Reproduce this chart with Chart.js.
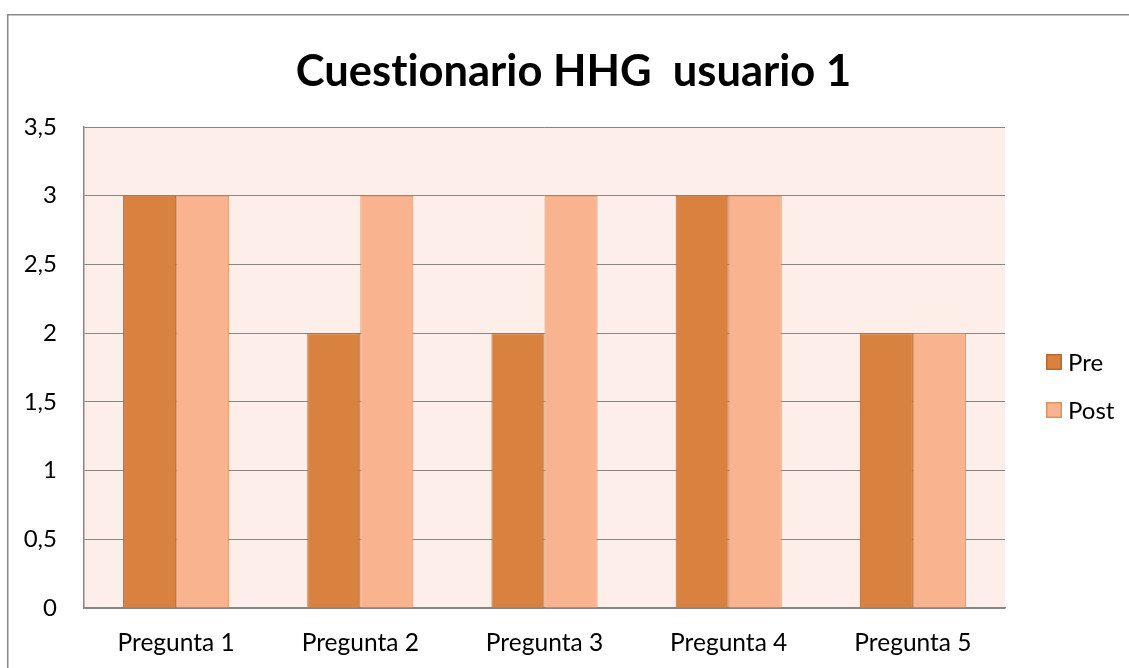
<!DOCTYPE html>
<html>
<head>
<meta charset="utf-8">
<script src="https://cdn.jsdelivr.net/npm/chart.js@4.4.1/dist/chart.umd.min.js"></script>
<style>
  html, body { margin: 0; padding: 0; background: #ffffff; }
  #wrap { width: 1129px; height: 668px; position: relative; }
</style>
</head>
<body>
<div id="wrap"><canvas id="c" width="1129" height="668"></canvas></div>
<script>
const chartTitle = "Cuestionario HHG  usuario 1";
const categories = ["Pregunta 1", "Pregunta 2", "Pregunta 3", "Pregunta 4", "Pregunta 5"];
const seriesNames = ["Pre", "Post"];
const preValues = [3, 2, 2, 3, 2];
const postValues = [3, 3, 3, 3, 2];
const yTickValues = [0, 0.5, 1, 1.5, 2, 2.5, 3, 3.5];

const FONT = "Lato, 'Open Sans', sans-serif";

const frame = {
  id: 'frame',
  beforeDraw(chart) {
    const { ctx, chartArea: a } = chart;
    if ('letterSpacing' in ctx) ctx.letterSpacing = '0.01px';
    ctx.save();
    ctx.fillStyle = '#ffffff';
    ctx.fillRect(0, 0, chart.width, chart.height);
    ctx.fillStyle = '#FDEEE9';
    ctx.fillRect(a.left, a.top, a.right - a.left, a.bottom - a.top);
    ctx.strokeStyle = '#898989';
    ctx.lineWidth = 1.5;
    ctx.beginPath();
    ctx.moveTo(7.75, chart.height);
    ctx.lineTo(7.75, 14.75);
    ctx.lineTo(chart.width, 14.75);
    ctx.stroke();
    ctx.restore();
  },
  afterDraw(chart) {
    const { ctx } = chart;
    ctx.save();
    ctx.font = "24px " + FONT;
    ctx.textBaseline = 'middle';
    ctx.textAlign = 'left';
    const ys = [362, 410];
    chart.data.datasets.forEach((ds, i) => {
      ctx.fillStyle = ds.backgroundColor;
      ctx.strokeStyle = ds.borderColor;
      ctx.lineWidth = 1.5;
      ctx.fillRect(1046, ys[i] - 8, 16, 16);
      ctx.strokeRect(1046.75, ys[i] - 7.25, 14.5, 14.5);
      ctx.fillStyle = '#000000';
      ctx.fillText(ds.label, 1068, ys[i] + 1);
    });
    ctx.restore();
  }
};

new Chart(document.getElementById('c'), {
  type: 'bar',
  data: {
    labels: categories,
    datasets: [
      { label: seriesNames[0], data: preValues, backgroundColor: '#D9823F', borderColor: '#B8682C', borderWidth: 1 },
      { label: seriesNames[1], data: postValues, backgroundColor: '#F9B48F', borderColor: '#D9935F', borderWidth: 1 }
    ]
  },
  options: {
    responsive: false,
    animation: false,
    layout: { padding: { left: 18, right: 0, top: 0, bottom: 0 } },
    datasets: { bar: { barPercentage: 1.0, categoryPercentage: 0.576 } },
    plugins: {
      legend: { display: false },
      tooltip: { enabled: false },
      title: {
        display: true,
        text: chartTitle,
        color: '#000000',
        font: { family: FONT, size: 43.5, weight: 'bold', lineHeight: 1.2 },
        padding: { top: 46, bottom: 28.8 }
      }
    },
    scales: {
      x: {
        grid: { display: false, drawTicks: false },
        border: { display: true, color: '#868686', width: 1.5 },
        ticks: { color: '#000000', font: { family: FONT, size: 24.5 }, padding: 20, maxRotation: 0 },
        afterFit(scale) { scale.height = 60; }
      },
      y: {
        min: 0,
        max: 3.5,
        afterBuildTicks(scale) { scale.ticks = yTickValues.map(v => ({ value: v })); },
        grid: { color: '#868686', lineWidth: 1, drawTicks: false },
        border: { display: true, color: '#868686', width: 1.5 },
        ticks: {
          color: '#000000',
          font: { family: FONT, size: 24 },
          padding: 27,
          callback: v => String(v).replace('.', ',')
        },
        afterFit(scale) { scale.width = 66; }
      },
      legendSpace: {
        type: 'linear',
        position: 'right',
        display: true,
        grid: { display: false, drawTicks: false },
        border: { display: false },
        ticks: { display: false },
        afterFit(scale) { scale.width = 124; }
      }
    }
  },
  plugins: [frame]
});
</script>
</body>
</html>
